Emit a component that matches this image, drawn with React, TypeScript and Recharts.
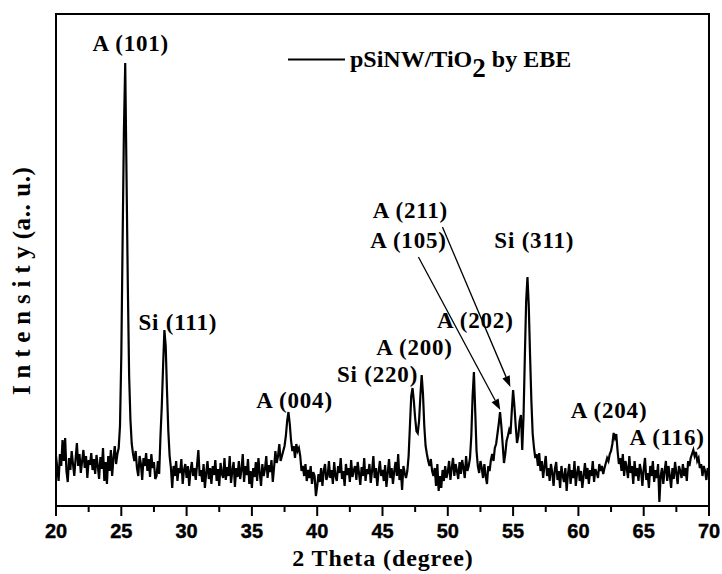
import { LineChart, Line, XAxis, YAxis, ReferenceArea, ReferenceDot, ReferenceLine } from 'recharts'

// XRD scan, 0.1 degree step from 20 to 70 (2 theta)
const thetaStart = 20
const thetaStep = 0.1

// intensity (a.u.), one row per degree
const intensity = [
  50, 38, 25, 52, 40, 66, 45, 68, 35, 24,
  48, 36, 55, 42, 30, 47, 63, 40, 52, 33,
  45, 56, 38, 50, 28, 46, 41, 53, 36, 47,
  32, 51, 40, 27, 49, 37, 58, 25, 44, 22,
  50, 35, 56, 30, 48, 60, 42, 52, 58, 80,
  150, 265, 375, 443, 330, 220, 130, 86, 62, 52,
  45, 55, 38, 30, 50, 42, 26, 48, 40, 53,
  35, 47, 29, 52, 38, 44, 27, 30, 45, 32,
  70, 100, 140, 176, 160, 115, 75, 50, 38, 18,
  40, 30, 45, 25, 38, 33, 47, 22, 36, 42,
  28, 40, 20, 35, 44, 30, 38, 26, 41, 56,
  30, 36, 24, 42, 18, 33, 45, 27, 38, 22,
  40, 31, 46, 25, 37, 20, 43, 32, 28, 48,
  26, 39, 30, 50, 23, 35, 44, 19, 38, 29,
  45, 27, 36, 52, 24, 40, 31, 47, 22, 35,
  18, 38, 29, 44, 25, 48, 33, 20, 42, 30,
  37, 50, 28, 41, 34, 46, 24, 39, 55, 43,
  50, 62, 45, 50, 55, 60, 70, 85, 94, 82,
  65, 55, 60, 48, 62, 55, 58, 50, 35, 40,
  30, 42, 25, 36, 28, 40, 22, 34, 30, 10,
  20, 32, 24, 38, 20, 35, 42, 26, 30, 45,
  28, 36, 22, 44, 30, 25, 40, 33, 48, 27,
  35, 20, 42, 31, 38, 24, 46, 29, 36, 40,
  26, 44, 33, 21, 39, 30, 48, 25, 37, 32,
  42, 23, 35, 50, 28, 38, 20, 34, 45, 30,
  36, 25, 41, 19, 33, 47, 28, 38, 22, 35,
  44, 30, 52, 26, 37, 16, 40, 33, 28, 35,
  50, 80, 110, 118, 105, 88, 75, 73, 85, 110,
  131, 112, 80, 60, 52, 45, 40, 47, 35, 30,
  38, 20, 42, 15, 30, 18, 36, 25, 40, 28,
  34, 45, 26, 38, 48, 30, 42, 35, 27, 44,
  32, 46, 38, 28, 50, 35, 40, 48, 70, 110,
  134, 95, 55, 40, 33, 45, 38, 28, 42, 30,
  22, 40, 35, 46, 52, 45, 58, 62, 72, 82,
  94, 80, 62, 43, 52, 65, 70, 76, 72, 95,
  116, 100, 80, 63, 70, 85, 91, 56, 90, 150,
  205, 229, 200, 150, 105, 72, 58, 48, 52, 40,
  53, 35, 45, 28, 40, 50, 30, 38, 25, 42,
  33, 20, 37, 44, 26, 35, 18, 40, 30, 24,
  38, 15, 32, 42, 22, 36, 28, 45, 20, 33,
  40, 25, 35, 18, 30, 43, 27, 38, 22, 36,
  30, 45, 24, 37, 33, 28, 42, 35, 40, 32,
  38, 43, 48, 45, 52, 55, 62, 73, 68, 72,
  55, 42, 48, 35, 52, 30, 45, 38, 28, 50,
  33, 40, 22, 45, 30, 38, 25, 42, 35, 20,
  37, 48, 26, 33, 18, 40, 30, 45, 24, 36,
  28, 42, 4, 30, 38, 22, 35, 45, 25, 40,
  30, 18, 38, 27, 44, 33, 22, 40, 35, 28,
  42, 30, 38, 25, 45, 40, 48, 52, 56, 50,
  54, 45, 48, 38, 42, 30, 40, 35, 26, 38,
  32,
]

const xTicks = [20, 22.5, 25, 27.5, 30, 32.5, 35, 37.5, 40, 42.5, 45, 47.5, 50, 52.5, 55, 57.5, 60, 62.5, 65, 67.5, 70]

// peak labels (text centre, in data units)
const peakLabels = [
  { text: 'A (101)', theta: 25.73, value: 463 },
  { text: 'Si (111)', theta: 29.33, value: 184 },
  { text: 'A (004)', theta: 38.27, value: 106 },
  { text: 'Si (220)', theta: 44.62, value: 132 },
  { text: 'A (200)', theta: 47.45, value: 159 },
  { text: 'A (202)', theta: 52.11, value: 186 },
  { text: 'A (105)', theta: 46.99, value: 266 },
  { text: 'A (211)', theta: 47.14, value: 296 },
  { text: 'Si (311)', theta: 56.62, value: 266 },
  { text: 'A (204)', theta: 62.35, value: 96 },
  { text: 'A (116)', theta: 66.79, value: 69 },
]

const arrows = [
  { from: { x: 47.75, y: 249 }, to: { x: 54.02, y: 96 } },
  { from: { x: 49.59, y: 279 }, to: { x: 54.79, y: 119 } },
]

const data = intensity.map((v, i) => ({
  theta: Math.round((thetaStart + i * thetaStep) * 10) / 10,
  intensity: v,
}))

const serif = { fontFamily: 'Liberation Serif', fontWeight: 'bold' as const }
const sans = { fontFamily: 'Liberation Sans', fontWeight: 'bold' as const }

function AxisTick({ x, y, payload }: any) {
  const major = payload.value % 5 === 0
  return (
    <g>
      <line x1={x} y1={y} x2={x} y2={y + (major ? 10 : 6)} stroke="#000" strokeWidth={2} />
      {major && (
        <text x={x} y={y + 32} textAnchor="middle" style={{ ...sans, fontSize: 20 }}
          fill="#000" stroke="#000" strokeWidth={0.4}>
          {payload.value}
        </text>
      )}
    </g>
  )
}

function Arrow(p: any) {
  const { x1, y1, x2, y2 } = p
  const a = Math.atan2(y2 - y1, x2 - x1)
  const len = 11
  const w = 4
  const bx = x2 - len * Math.cos(a)
  const by = y2 - len * Math.sin(a)
  const pts = `${x2},${y2} ${bx + w * Math.sin(a)},${by - w * Math.cos(a)} ${bx - w * Math.sin(a)},${by + w * Math.cos(a)}`
  return (
    <g>
      <line x1={x1} y1={y1} x2={bx} y2={by} stroke="#000" strokeWidth={1.3} />
      <polygon points={pts} fill="#000" />
    </g>
  )
}

export default function App() {
  return (
    <div style={{ position: 'absolute', left: 0, top: 0, width: 722, height: 574, background: '#fff' }}>
      <LineChart width={722} height={574} data={data}
        margin={{ top: 14, right: 13, left: 56, bottom: 0 }}>
        <XAxis dataKey="theta" type="number" domain={[20, 70]} ticks={xTicks} interval={0}
          height={68} tickSize={0} tickMargin={0} tickLine={false}
          axisLine={{ stroke: '#000', strokeWidth: 2 }} tick={<AxisTick />} />
        <YAxis hide type="number" domain={[0, 492]} allowDataOverflow />
        <ReferenceArea x1={20} x2={70} y1={0} y2={492} fill="none" fillOpacity={0}
          stroke="#000" strokeWidth={2} ifOverflow="visible" />
        <Line dataKey="intensity" type="linear" stroke="#000" strokeWidth={2.2}
          dot={false} isAnimationActive={false} />
        {arrows.map((a, i) => (
          <ReferenceLine key={i} segment={[a.from, a.to]} shape={Arrow} ifOverflow="visible" />
        ))}
        {peakLabels.map((l) => (
          <ReferenceDot key={l.text} x={l.theta} y={l.value} r={0} ifOverflow="visible"
            shape={(p: any) => (
              <text x={p.cx} y={p.cy} textAnchor="middle" dominantBaseline="central"
                style={{ ...serif, fontSize: 23, letterSpacing: 0.8 }} fill="#000">
                {l.text}
              </text>
            )} />
        ))}
      </LineChart>
      <svg width={722} height={574} style={{ position: 'absolute', left: 0, top: 0, pointerEvents: 'none' }}>
        {/* legend */}
        <line x1={288} y1={59.5} x2={345} y2={59.5} stroke="#000" strokeWidth={2} />
        <text x={350} y={67} style={{ ...serif, fontSize: 24 }} fill="#000">
          pSiNW/TiO<tspan style={{ fontSize: 27 }} dy={9.5}>2</tspan><tspan dy={-9.5}> by EBE</tspan>
        </text>
        {/* axis titles */}
        <text x={383} y={566} textAnchor="middle" style={{ ...serif, fontSize: 24, letterSpacing: 0.9 }}
          fill="#000">2 Theta (degree)</text>
        <text x={-395} y={30} transform="rotate(-90)" style={{ ...serif, fontSize: 25 }} fill="#000">
          <tspan style={{ letterSpacing: 6.8 }}>Intensity</tspan>
          <tspan style={{ letterSpacing: 0.6 }}>(a.. u.)</tspan>
        </text>
      </svg>
    </div>
  )
}
